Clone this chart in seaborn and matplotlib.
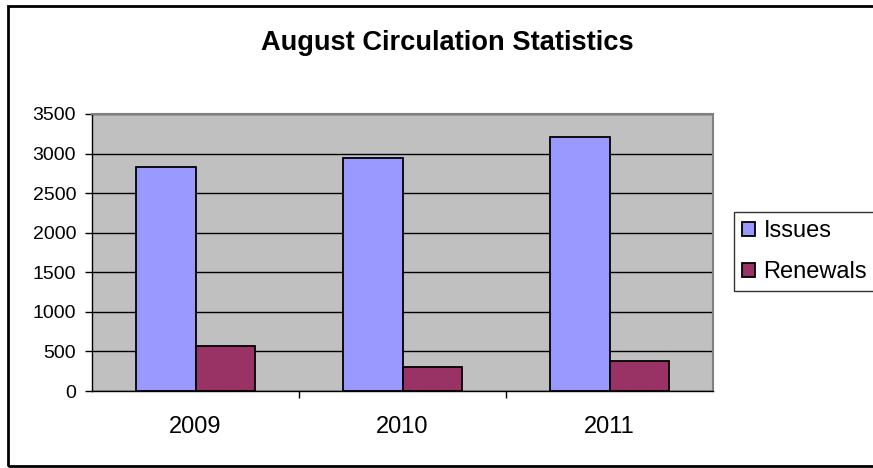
import matplotlib
matplotlib.use("Agg")
import matplotlib.pyplot as plt
import seaborn as sns
import pandas as pd
from matplotlib.patches import Rectangle

years = ["2009", "2010", "2011"]
issues = [2830, 2945, 3210]
renewals = [570, 305, 380]

df = pd.DataFrame({
    "Year": years * 2,
    "Count": issues + renewals,
    "Type": ["Issues"] * 3 + ["Renewals"] * 3,
})

sns.set_style("white")
plt.rcParams["font.family"] = ["Liberation Sans", "DejaVu Sans"]
plt.rcParams["text.color"] = "black"
plt.rcParams["xtick.color"] = "black"
plt.rcParams["ytick.color"] = "black"

fig = plt.figure(figsize=(8.73, 4.68), dpi=100)
ax = fig.add_axes([92 / 873, 1 - 391 / 468, (713 - 92) / 873, (391 - 114) / 468])

sns.barplot(data=df, x="Year", y="Count", hue="Type",
            palette=["#9999FF", "#993366"], width=0.573,
            edgecolor="black", linewidth=1.3, saturation=1, ax=ax, zorder=3)

ax.set_facecolor("#C0C0C0")
ax.set_ylim(0, 3500)
ax.set_xlim(-0.5, 2.5)
ax.set_yticks(range(0, 3501, 500))
ax.yaxis.grid(True, color="black", linewidth=1, zorder=0)
ax.set_axisbelow(True)
ax.set_xlabel("")
ax.set_ylabel("")
ax.tick_params(axis="y", left=True, length=5, width=1, color="black",
               labelsize=14, pad=6.5, labelcolor="black")
ax.tick_params(axis="x", bottom=False, labelsize=17, pad=14.5, labelcolor="black")
ax.set_xticks([0.5, 1.5], minor=True)
ax.tick_params(axis="x", which="minor", bottom=True, length=5, width=1, color="black")
for s in ["left", "bottom"]:
    ax.spines[s].set_color("black")
    ax.spines[s].set_linewidth(1)
for s in ["top", "right"]:
    ax.spines[s].set_color("#808080")
    ax.spines[s].set_linewidth(1.5)

leg = ax.legend(loc="upper left", bbox_to_anchor=(734 / 873, 1 - 212 / 468),
                bbox_transform=fig.transFigure, frameon=True, fancybox=False,
                fontsize=17, handlelength=0.55, handleheight=0.55,
                handletextpad=0.35, borderpad=0.35, labelspacing=0.8,
                borderaxespad=0)
leg.get_frame().set_edgecolor("black")
leg.get_frame().set_linewidth(1)
for t in leg.get_texts():
    t.set_color("black")

fig.suptitle("August Circulation Statistics", x=447 / 873, y=1 - 43 / 468,
             va="center", fontsize=19.6, fontweight="bold", color="black")

fig.patches.append(Rectangle((8 / 873, 1 - 466 / 468), 1.0, (466 - 6) / 468,
                             transform=fig.transFigure, fill=False,
                             edgecolor="black", linewidth=2, clip_on=False))

fig.savefig("out.png", dpi=100)
